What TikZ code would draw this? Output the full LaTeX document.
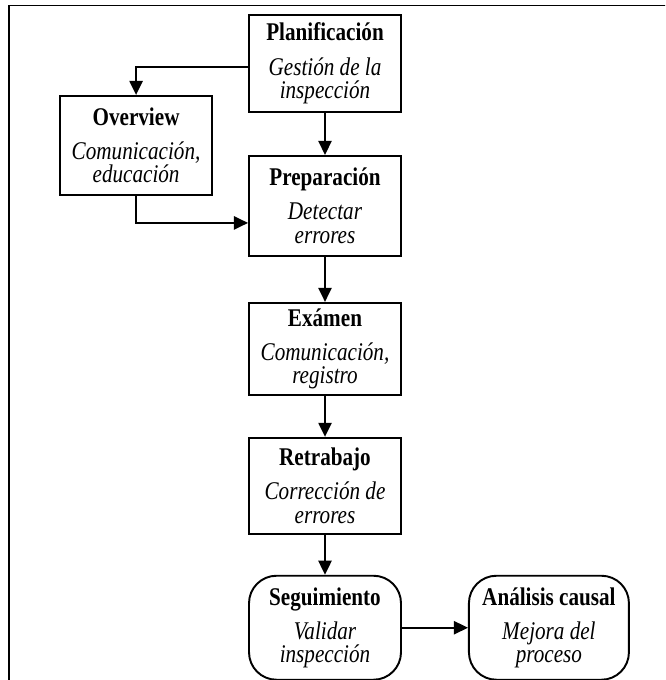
\documentclass[tikz,border=0pt]{standalone}
\usepackage{fontspec}
\setmainfont{Liberation Serif}[FakeStretch=0.83]
\usetikzlibrary{arrows.meta,positioning,calc}
\tikzset{
  stage/.style={draw, line width=1.1pt, minimum width=3.04cm, minimum height=1.94cm,
    align=center, inner sep=2pt, font=\fontsize{14.5}{13.4}\selectfont},
  roundstage/.style={stage, rounded corners=0.55cm},
  flow/.style={-{Triangle[length=8pt,width=7.5pt]}, line width=1.1pt},
  frameline/.style={line width=1.1pt}
}

\begin{document}
\begin{tikzpicture}[node distance=0.84cm]
      \path[use as bounding box, clip] (0,0) rectangle (13.3,-13.6);
      \draw[frameline] (0.18,-14) |- (14,-0.11);
      % main column
      \node[stage] (plan) at (6.5,-1.27) {\textbf{Planificación}\\[6pt]\textit{Gestión de la}\\\textit{inspección}};
      \node[stage, minimum height=2.0cm, below=0.84cm of plan] (prep) {\textbf{Preparación}\\[6pt]\textit{Detectar}\\\textit{errores}};
      \node[stage, minimum height=1.84cm, below=0.9cm of prep] (exam) {\textbf{Exámen}\\[6pt]\textit{Comunicación,}\\\textit{registro}};
      \node[stage, minimum height=1.92cm, below=0.82cm of exam] (retr) {\textbf{Retrabajo}\\[6pt]\textit{Corrección de}\\\textit{errores}};
      \node[roundstage, minimum height=2.08cm, below=0.8cm of retr] (segu) {\textbf{Seguimiento}\\[6pt]\textit{Validar}\\\textit{inspección}};
      \node[roundstage, minimum width=3.2cm, minimum height=2.08cm, right=1.32cm of segu] (anal) {\textbf{Análisis causal}\\[6pt]\textit{Mejora del}\\\textit{proceso}};
      \node[stage, minimum height=1.98cm, below left=-0.36cm and 0.7cm of plan] (over) {\textbf{Overview}\\[6pt]\textit{Comunicación,}\\\textit{educación}};
      % connectors
      \draw[flow] ([yshift=-0.07cm]plan.west) -| (over.north);
      \draw[flow] (over.south) |- ([yshift=-0.34cm]prep.west);
      \draw[flow] (plan) -- (prep);
      \draw[flow] (prep) -- (exam);
      \draw[flow] (exam) -- (retr);
      \draw[flow] (retr) -- (segu);
      \draw[flow] (segu) -- (anal);
    \end{tikzpicture}
\end{document}
